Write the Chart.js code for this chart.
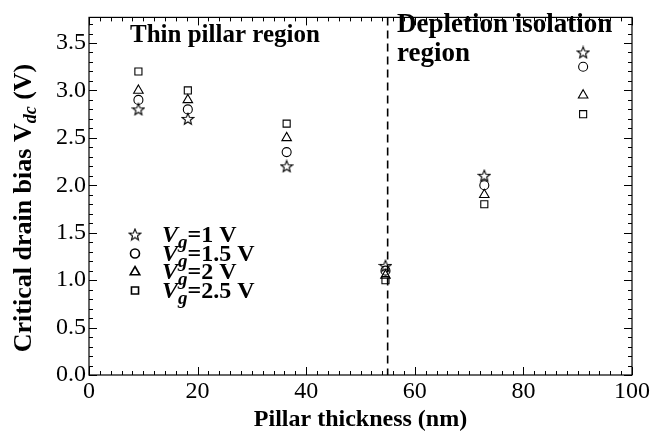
<!DOCTYPE html>
<html>
<head>
<meta charset="utf-8">
<script src="https://cdn.jsdelivr.net/npm/chart.js@4/dist/chart.umd.min.js"></script>
<style>
  html, body { margin: 0; padding: 0; background: #fff; }
  #wrap { width: 652px; height: 434px; }
</style>
</head>
<body>
<div id="wrap"><canvas id="chart" width="652" height="434"></canvas></div>
<script>
const thickness = [9.1, 18.2, 36.4, 54.6, 72.8, 91];
const vg1 = [2.8, 2.7, 2.2, 1.15, 2.1, 3.4];
const vg15 = [2.9, 2.8, 2.35, 1.1, 2.0, 3.25];
const vg2 = [3.0, 2.9, 2.5, 1.05, 1.9, 2.95];
const vg25 = [3.2, 3.0, 2.65, 1.0, 1.8, 2.75];
const seriesLabels = ['1', '1.5', '2', '2.5'];
const xTicks = [0, 20, 40, 60, 80, 100];
const yTicks = [0, 0.5, 1, 1.5, 2, 2.5, 3, 3.5];
const boundary = 55;

const SERIF = '"Liberation Serif", "DejaVu Serif", serif';

// five-point hollow star, Chart.js has no such pointStyle
function makeStar() {
	const c = document.createElement('canvas');
	c.width = 14; c.height = 14;
	const g = c.getContext('2d');
	g.strokeStyle = '#000';
	g.lineWidth = 1.1;
	g.beginPath();
	for (let i = 0; i < 10; i++) {
		const r = i % 2 === 0 ? 6 : 2.6;
		const a = -Math.PI / 2 + i * Math.PI / 5;
		const px = 7 + r * Math.cos(a), py = 7.4 + r * Math.sin(a);
		if (i === 0) g.moveTo(px, py); else g.lineTo(px, py);
	}
	g.closePath();
	g.stroke();
	return c;
}
const starImg = makeStar();

function pts(ys) {
	return thickness.map((x, i) => ({ x: x, y: ys[i] }));
}

const styles = [
	{ pointStyle: starImg, pointRadius: 6 },
	{ pointStyle: 'circle', pointRadius: 4.5 },
	{ pointStyle: 'triangle', pointRadius: 5.5 },
	{ pointStyle: 'rect', pointRadius: 5 }
];

const datasets = [vg1, vg15, vg2, vg25].map((ys, i) => ({
	label: 'Vg=' + seriesLabels[i] + ' V',
	data: pts(ys),
	showLine: false,
	pointStyle: styles[i].pointStyle,
	pointRadius: styles[i].pointRadius,
	pointHoverRadius: styles[i].pointRadius,
	pointBackgroundColor: 'rgba(0,0,0,0)',
	pointBorderColor: '#000',
	pointBorderWidth: 1.1
}));

function drawSubText(ctx, x, y, parts) {
	// parts: [text, font, dy]
	let cx = x;
	for (const p of parts) {
		ctx.font = p[1];
		ctx.fillText(p[0], cx, y + (p[2] || 0));
		cx += ctx.measureText(p[0]).width;
	}
	return cx;
}

const decor = {
	id: 'decor',
	afterDraw(chart) {
		const ctx = chart.ctx;
		const xs = chart.scales.x, ys = chart.scales.y;
		const a = chart.chartArea;
		ctx.save();
		ctx.strokeStyle = '#000';
		ctx.fillStyle = '#000';
		ctx.lineWidth = 1.2;
		ctx.strokeRect(a.left, a.top, a.right - a.left, a.bottom - a.top);

		// ticks inward on all sides
		ctx.lineWidth = 1;
		ctx.beginPath();
		for (let v = 0; v <= 100.001; v += 2) {
			const px = Math.round(xs.getPixelForValue(v)) + 0.5;
			const len = Math.abs(v % 20) < 0.01 ? 8 : 4;
			ctx.moveTo(px, a.bottom); ctx.lineTo(px, a.bottom - len);
			ctx.moveTo(px, a.top); ctx.lineTo(px, a.top + len);
		}
		for (let k = 0; k <= 37; k++) {
			const v = k / 10;
			const py = Math.round(ys.getPixelForValue(v)) + 0.5;
			const len = k % 5 === 0 ? 8 : 4;
			ctx.moveTo(a.left, py); ctx.lineTo(a.left + len, py);
			ctx.moveTo(a.right, py); ctx.lineTo(a.right - len, py);
		}
		ctx.stroke();

		// dashed boundary line
		const bx = xs.getPixelForValue(boundary);
		ctx.lineWidth = 1.6;
		ctx.setLineDash([8, 5]);
		ctx.beginPath();
		ctx.moveTo(bx, a.top); ctx.lineTo(bx, a.bottom);
		ctx.stroke();
		ctx.setLineDash([]);

		// region labels
		ctx.textBaseline = 'alphabetic';
		ctx.textAlign = 'left';
		ctx.font = 'bold 25px ' + SERIF;
		ctx.fillText('Thin pillar region', 130, 42);
		ctx.font = 'bold 27px ' + SERIF;
		ctx.fillText('Depletion isolation', 397, 32);
		ctx.fillText('region', 397, 61);

		// legend
		const rows = [235, 253.5, 272, 290.5];
		datasets.forEach((ds, i) => {
			const y = rows[i];
			if (i === 0) {
				ctx.drawImage(starImg, 135 - 7, y - 7.4);
			} else {
				ctx.fillStyle = 'rgba(0,0,0,0)';
				Chart.helpers.drawPoint(ctx, {
					pointStyle: ds.pointStyle,
					radius: ds.pointRadius,
					borderWidth: 1.1
				}, 135, y);
				ctx.fillStyle = '#000';
			}
			drawSubText(ctx, 162, y + 7, [
				['V', 'italic bold 24px ' + SERIF],
				['g', 'italic bold 19px ' + SERIF, 6],
				['=' + seriesLabels[i] + ' V', 'bold 24px ' + SERIF]
			]);
		});

		// y-axis title with subscript
		ctx.translate(31, 208);
		ctx.rotate(-Math.PI / 2);
		const parts = [
			['Critical drain bias ', 'bold 26px ' + SERIF, 0],
			['V', 'bold 26px ' + SERIF, 0],
			['dc', 'italic bold 18px ' + SERIF, 5],
			[' (V)', 'bold 26px ' + SERIF, 0]
		];
		let w = 0;
		for (const p of parts) { ctx.font = p[1]; w += ctx.measureText(p[0]).width; }
		drawSubText(ctx, -w / 2, 0, parts);
		ctx.restore();
	}
};

new Chart(document.getElementById('chart'), {
	type: 'scatter',
	data: { datasets: datasets },
	options: {
		responsive: false,
		animation: false,
		events: [],
		layout: { padding: { top: 9, right: 17, left: 0, bottom: 0 } },
		plugins: { legend: { display: false }, tooltip: { enabled: false } },
		scales: {
			x: {
				type: 'linear',
				min: 0,
				max: 100,
				afterBuildTicks: s => { s.ticks = xTicks.map(v => ({ value: v })); },
				afterFit: s => { s.height = 59; },
				grid: { display: false, drawTicks: false },
				border: { display: false },
				ticks: {
					color: '#000',
					padding: 2,
					maxRotation: 0,
					font: { family: SERIF, size: 24 }
				},
				title: {
					display: true,
					text: 'Pillar thickness (nm)',
					color: '#000',
					padding: { top: 4, bottom: 0 },
					font: { family: SERIF, size: 24, weight: 'bold' }
				}
			},
			y: {
				type: 'linear',
				min: 0,
				max: 3.77,
				afterBuildTicks: s => { s.ticks = yTicks.map(v => ({ value: v })); },
				afterFit: s => { s.width = 89; },
				grid: { display: false, drawTicks: false },
				border: { display: false },
				ticks: {
					color: '#000',
					padding: 3,
					callback: v => v.toFixed(1),
					font: { family: SERIF, size: 24 }
				}
			}
		}
	},
	plugins: [decor]
});
</script>
</body>
</html>
